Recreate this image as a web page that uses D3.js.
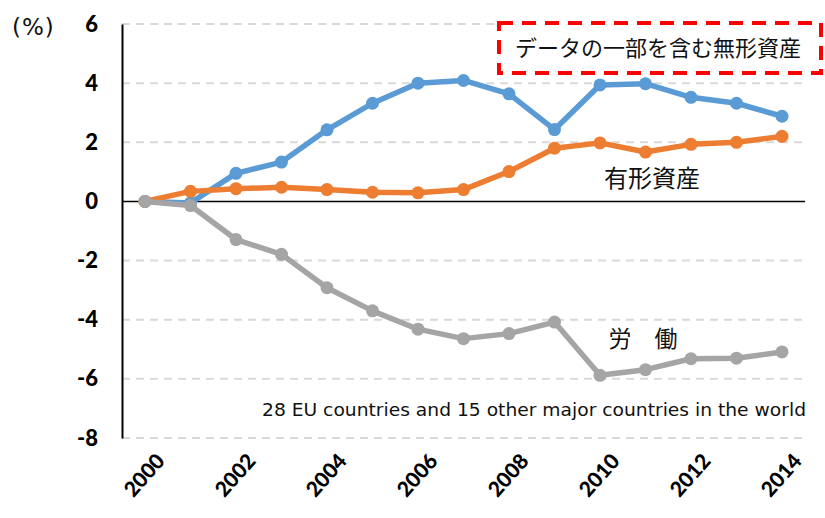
<!DOCTYPE html>
<html>
<head>
<meta charset="utf-8">
<script src="https://cdn.jsdelivr.net/npm/d3@7"></script>
<style>
  body { margin: 0; background: #fff; }
  svg { display: block; }
</style>
</head>
<body>
<svg id="chart"></svg>
<script>
// Data
const years = [2000, 2001, 2002, 2003, 2004, 2005, 2006, 2007, 2008, 2009, 2010, 2011, 2012, 2013, 2014];
const yearLabels = [2000, 2002, 2004, 2006, 2008, 2010, 2012, 2014];
const yTicks = [-8, -6, -4, -2, 0, 2, 4, 6];
const intangible = [0, -0.05, 0.95, 1.33, 2.42, 3.32, 4.0, 4.09, 3.64, 2.43, 3.94, 3.98, 3.52, 3.32, 2.88];
const tangible = [0, 0.34, 0.43, 0.48, 0.4, 0.31, 0.29, 0.4, 1.01, 1.8, 1.98, 1.67, 1.93, 2.0, 2.2];
const labour = [0, -0.14, -1.29, -1.79, -2.92, -3.7, -4.32, -4.64, -4.47, -4.08, -5.88, -5.69, -5.32, -5.3, -5.09];

const W = 825, H = 518;
const svg = d3.select("#chart").attr("width", W).attr("height", H);

const x = d3.scaleLinear().domain([2000, 2014]).range([145, 782]);
const y = d3.scaleLinear().domain([-8, 6]).range([438, 24]);
const axisX = 122, gridEnd = 805;
const numFont = "Lato, 'Open Sans', sans-serif";
const jp = "'Noto Sans CJK JP', sans-serif";

// Dashed gridlines
svg.append("g").selectAll("line")
  .data(yTicks.filter(d => d !== 0))
  .enter().append("line")
  .attr("x1", axisX).attr("x2", gridEnd)
  .attr("y1", d => y(d)).attr("y2", d => y(d))
  .attr("stroke", "#d9d9d9")
  .attr("stroke-width", 2)
  .attr("stroke-dasharray", "8,6");

// Zero line and y axis
svg.append("line")
  .attr("x1", axisX).attr("x2", gridEnd)
  .attr("y1", y(0)).attr("y2", y(0))
  .attr("stroke", "#000").attr("stroke-width", 1.5);

const yAxis = d3.axisLeft(y)
  .tickValues(yTicks)
  .tickFormat(d => String(d))
  .tickSize(0)
  .tickPadding(24);
const gy = svg.append("g")
  .attr("transform", "translate(" + axisX + ",0)")
  .call(yAxis);
gy.select(".domain").attr("stroke", "#000").attr("stroke-width", 2);
gy.selectAll("text")
  .style("font-family", numFont)
  .style("font-weight", "900")
  .style("font-size", "22px")
  .attr("fill", "#000");

svg.append("text")
  .attr("x", 12).attr("y", 35)
  .style("font-family", "'DejaVu Sans', sans-serif")
  .style("font-size", "23px")
  .style("letter-spacing", "1px")
  .attr("fill", "#111")
  .text("(%)");

// x labels, rotated
svg.append("g").selectAll("text")
  .data(yearLabels)
  .enter().append("text")
  .attr("transform", d => "translate(" + (x(d) + 21) + ",462) rotate(-48)")
  .attr("text-anchor", "end")
  .style("font-family", numFont)
  .style("font-weight", "900")
  .style("font-size", "21px")
  .text(d => d);

// Series
const series = [
  { values: intangible, color: "#5b9bd5" },
  { values: tangible, color: "#ed7d31" },
  { values: labour, color: "#a5a5a5" }
];

const line = d3.line().x((d, i) => x(years[i])).y(d => y(d));

series.forEach(s => {
  svg.append("path")
    .datum(s.values)
    .attr("d", line)
    .attr("fill", "none")
    .attr("stroke", s.color)
    .attr("stroke-width", 5.5)
    .attr("stroke-linejoin", "round");
  svg.append("g").selectAll("circle")
    .data(s.values)
    .enter().append("circle")
    .attr("cx", (d, i) => x(years[i]))
    .attr("cy", d => y(d))
    .attr("r", 6.5)
    .attr("fill", s.color);
});

// Labels
svg.append("rect")
  .attr("x", 499).attr("y", 23)
  .attr("width", 322).attr("height", 50)
  .attr("fill", "#fff")
  .attr("stroke", "#ff0000")
  .attr("stroke-width", 4)
  .attr("stroke-dasharray", "14,9");
svg.append("text")
  .attr("x", 658).attr("y", 56)
  .attr("text-anchor", "middle")
  .style("font-family", jp)
  .style("font-size", "22px")
  .attr("fill", "#111")
  .text("データの一部を含む無形資産");

svg.append("text")
  .attr("x", 652).attr("y", 187)
  .attr("text-anchor", "middle")
  .style("font-family", jp)
  .style("font-size", "24px")
  .attr("fill", "#111")
  .text("有形資産");

svg.append("text")
  .attr("x", 643).attr("y", 347)
  .attr("text-anchor", "middle")
  .style("font-family", jp)
  .style("font-size", "23px")
  .attr("fill", "#111")
  .text("労　働");

svg.append("text")
  .attr("x", 262).attr("y", 416)
  .style("font-family", "'DejaVu Sans', sans-serif")
  .style("font-size", "17px")
  .attr("textLength", 544)
  .attr("lengthAdjust", "spacingAndGlyphs")
  .attr("fill", "#111")
  .text("28 EU countries and 15 other major countries in the world");
</script>
</body>
</html>
